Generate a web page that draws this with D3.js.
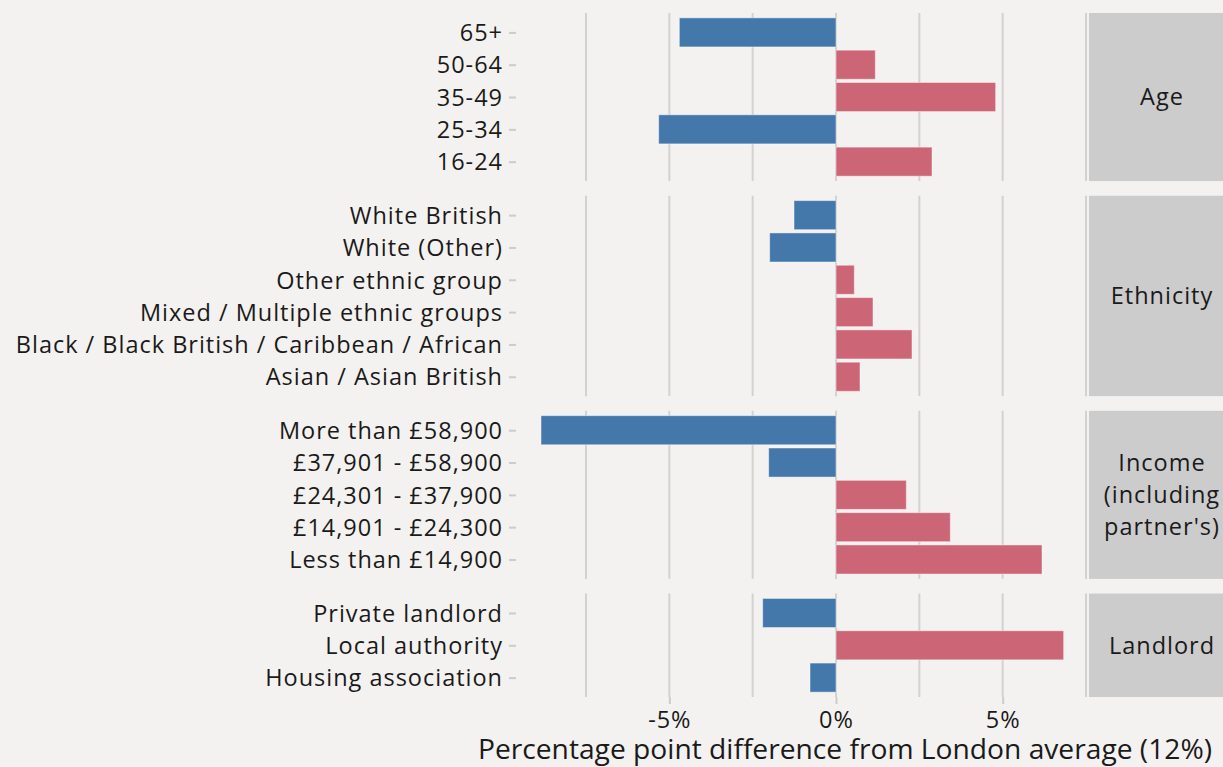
<!DOCTYPE html>
<html><head><meta charset="utf-8">
<script src="https://cdn.jsdelivr.net/npm/d3@7"></script>
<style>
html,body{margin:0;padding:0;background:#F4F2F0;}
svg{display:block;}
text{font-family:"Open Sans",sans-serif;fill:#1a1a1a;}
</style></head>
<body>
<svg id="chart" width="1223" height="767"></svg>
<script>
// ---- data (top-to-bottom order within each facet) ----
const facets = ["Age", "Ethnicity", "Income (including partner's)", "Landlord"];
const stripLines = [["Age"], ["Ethnicity"], ["Income", "(including", "partner's)"], ["Landlord"]];
const ageCategories = ["65+", "50-64", "35-49", "25-34", "16-24"];
const ageValues = [-4.7, 1.18, 4.79, -5.32, 2.88];
const ethnicityCategories = ["White British", "White (Other)", "Other ethnic group", "Mixed / Multiple ethnic groups", "Black / Black British / Caribbean / African", "Asian / Asian British"];
const ethnicityValues = [-1.26, -1.99, 0.55, 1.11, 2.28, 0.72];
const incomeCategories = ["More than £58,900", "£37,901 - £58,900", "£24,301 - £37,900", "£14,901 - £24,300", "Less than £14,900"];
const incomeValues = [-8.85, -2.02, 2.11, 3.43, 6.18];
const landlordCategories = ["Private landlord", "Local authority", "Housing association"];
const landlordValues = [-2.2, 6.83, -0.78];
const xTickValues = [-5, 0, 5];
const xTickLabels = ["-5%", "0%", "5%"];
const xGridValues = [-7.5, -5, -2.5, 0, 2.5, 5, 7.5];
const xTitle = "Percentage point difference from London average (12%)";

const groups = [
  {cats: ageCategories, vals: ageValues},
  {cats: ethnicityCategories, vals: ethnicityValues},
  {cats: incomeCategories, vals: incomeValues},
  {cats: landlordCategories, vals: landlordValues}
];

const svg = d3.select("#chart");
svg.append("rect").attr("width",1223).attr("height",767).attr("fill","#F4F2F0");

const panelLeft = 516, panelRight = 1088, panelTop = 13, panelBottom = 697, gap = 14.7;
const stripLeft = 1089, stripRight = 1240;
const fontSize = 23.5;

const x = d3.scaleLinear().domain([-9.6, 7.56]).range([panelLeft, panelRight]);

const totalUnits = d3.sum(groups, g => g.cats.length + 0.2);
const unit = (panelBottom - panelTop - gap * (groups.length - 1)) / totalUnits;

const yLabelTexts = [];
const stripTexts = [];
let y0 = panelTop;
groups.forEach((g, gi) => {
  const h = unit * (g.cats.length + 0.2);
  const y = d3.scalePoint().domain(g.cats).range([y0, y0 + h]).padding(0.6);
  const step = y.step();
  const p = svg.append("g");
  p.selectAll("line.grid").data(xGridValues).join("line")
    .attr("x1", d => x(d)).attr("x2", d => x(d))
    .attr("y1", y0).attr("y2", y0 + h)
    .attr("stroke", "#D2D2D2").attr("stroke-width", 2);
  p.selectAll("rect.bar").data(g.cats).join("rect")
    .attr("x", (d,i) => x(Math.min(0, g.vals[i])))
    .attr("width", (d,i) => Math.abs(x(g.vals[i]) - x(0)))
    .attr("y", d => y(d) - step * 0.45)
    .attr("height", step * 0.9)
    .attr("fill", (d,i) => g.vals[i] < 0 ? "#4477AA" : "#CC6677")
    .attr("stroke", "#ffffff").attr("stroke-opacity", 0.45).attr("stroke-width", 1);
  const ax = svg.append("g").attr("transform", `translate(${panelLeft},0)`)
    .call(d3.axisLeft(y).tickSize(7).tickPadding(6));
  ax.select(".domain").remove();
  ax.selectAll(".tick line").attr("stroke", "#CCCCCC").attr("stroke-width", 2);
  ax.selectAll(".tick text").attr("font-size", fontSize).attr("font-family", "Open Sans")
    .attr("fill", "#1a1a1a").attr("dy", "0.35em")
    .each(function(){ yLabelTexts.push(this); });
  svg.append("rect").attr("x", stripLeft).attr("y", y0).attr("width", stripRight - stripLeft)
    .attr("height", h).attr("fill", "#CCCCCC");
  const lines = stripLines[gi];
  const cy = y0 + h / 2;
  const lh = 32.2;
  const st = svg.append("text").attr("x", 1162).attr("text-anchor", "middle")
    .attr("font-size", fontSize);
  st.selectAll("tspan").data(lines).join("tspan")
    .attr("x", 1162)
    .attr("y", (d,i) => cy + (i - (lines.length - 1) / 2) * lh)
    .attr("dy", "0.35em")
    .text(d => d);
  stripTexts.push(st.node());
  y0 += h + gap;
});

const xa = svg.append("g").attr("transform", `translate(0,${panelBottom})`)
  .call(d3.axisBottom(x).tickValues(xTickValues).tickFormat((d,i) => xTickLabels[i]).tickSize(7).tickPadding(7));
xa.select(".domain").remove();
xa.selectAll(".tick line").attr("stroke", "#CCCCCC").attr("stroke-width", 2);
xa.selectAll(".tick text").attr("font-size", fontSize).attr("font-family", "Open Sans").attr("fill", "#1a1a1a");

const title = svg.append("text").attr("x", 845).attr("y", 759).attr("text-anchor", "middle")
  .attr("font-size", fontSize).text(xTitle);

// letter-spacing so label widths match the reference's looser typeface
const longest = yLabelTexts.find(t => t.textContent.startsWith("Black"));
const ls = Math.max(0, (487 - longest.getComputedTextLength()) / longest.textContent.length);
yLabelTexts.forEach(t => t.setAttribute("letter-spacing", ls.toFixed(2)));
stripTexts.forEach(t => t.setAttribute("letter-spacing", ls.toFixed(2)));
xa.selectAll(".tick text").attr("letter-spacing", ls.toFixed(2));
const fTitle = Math.min(28.2, fontSize * 734 / title.node().getComputedTextLength());
title.attr("font-size", fTitle.toFixed(2));
</script>
</body></html>
